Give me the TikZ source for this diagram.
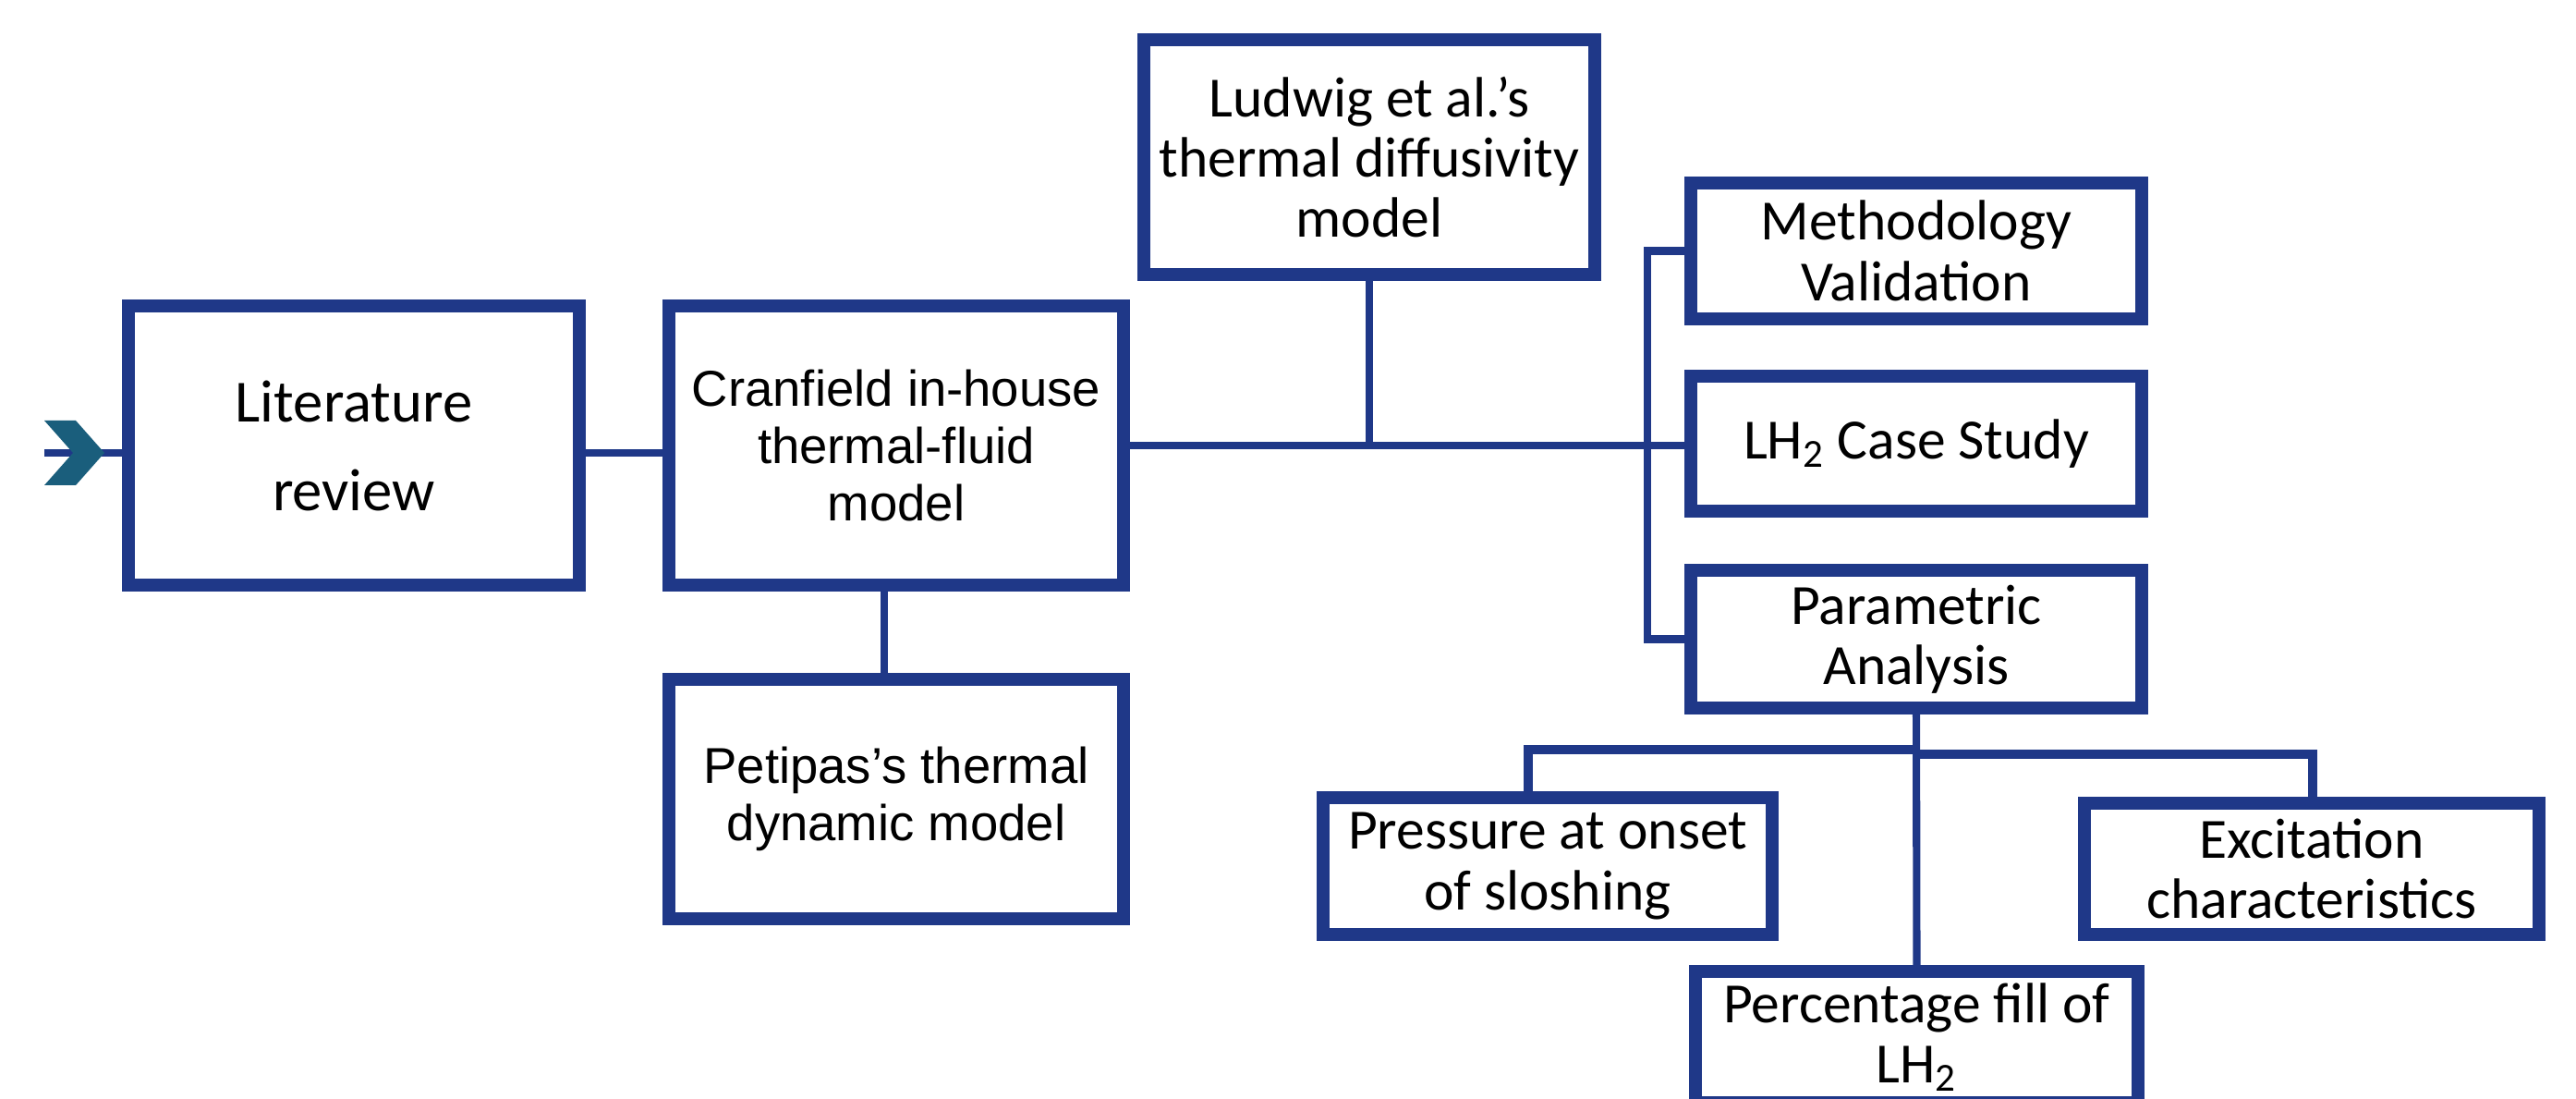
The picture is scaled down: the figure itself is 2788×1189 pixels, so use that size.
\documentclass[tikz,border=0pt]{standalone}
\usepackage{fontspec}
\setmainfont{Carlito}
\newfontfamily\arialf{Liberation Sans}
\definecolor{boxblue}{RGB}{31,56,136}
\definecolor{chevteal}{RGB}{26,94,124}
\begin{document}
\begin{tikzpicture}[x=0.01cm,y=-0.01cm,
  box/.style={draw=boxblue, line width=2.7pt, fill=white, align=center, inner sep=0pt,
    font=\fontsize{17.5}{18.6}\selectfont},
  widebox/.style={box, font=\arialf\fontsize{15.5}{17.6}\selectfont},
  link/.style={draw=boxblue, line width=2.3pt},
  barlink/.style={draw=boxblue, line width=2.8pt},
  chev/.style={fill=chevteal, draw=none}
]
\useasboundingbox (0,0) rectangle (2788,1189);
\clip (0,0) rectangle (2788,1189);
\fill[white] (0,0) rectangle (2788,1189);

% nodes
\node[box, minimum width=4.83cm, minimum height=2.97cm,
  font=\fontsize{18.4}{27.3}\selectfont] (lit) at (383,482) {Literature\\review};
\node[widebox, minimum width=4.87cm, minimum height=2.97cm] (cran) at (970,482)
  {Cranfield in-house\\thermal-fluid\\model};
\node[widebox, minimum width=4.87cm, minimum height=2.54cm] (pet) at (970,864.5)
  {Petipas’s thermal\\dynamic model};
\node[box, minimum width=4.83cm, minimum height=2.49cm] (lud) at (1482,170)
  {Ludwig et al.’s\\thermal diffusivity\\model};
\node[box, minimum width=4.83cm, minimum height=1.42cm] (meth) at (2074,271.5)
  {Methodology\\Validation};
\node[box, minimum width=4.83cm, minimum height=1.41cm] (lh) at (2074,480)
  {LH\textsubscript{2} Case Study};
\node[box, minimum width=4.83cm, minimum height=1.44cm] (par) at (2074,691.5)
  {Parametric\\Analysis};
\node[box, minimum width=4.81cm, minimum height=1.43cm] (pres) at (1675,937)
  {Pressure at onset\\of sloshing};
\node[box, minimum width=4.87cm, minimum height=1.37cm] (exc) at (2502,940)
  {Excitation\\characteristics};
\node[box, minimum width=4.74cm, minimum height=1.37cm] (perc) at (2074.5,1122)
  {Percentage fill of\\LH\textsubscript{2}};

% helper coordinates
\coordinate (start) at (48,490);
\coordinate (brk) at (1783,480);
\coordinate (presx) at (1654,811);
\coordinate (excx) at (2503,816);

% connectors
\draw[link] (start) -- (start -| lit.west);
\draw[link] ([yshift=-0.08cm]lit.east) -- ([yshift=-0.08cm]cran.west);
\draw[link] (cran.east) -- (cran.east -| lh.west);
\draw[link] (lud.south) -- (lud.south |- cran.east);
\draw[link] ([xshift=-0.13cm]cran.south) -- ([xshift=-0.13cm]pet.north);
\draw[link] (meth.west) -- (meth.west -| brk) -- (par.west -| brk) -- (par.west);
\draw[link] (par.south) -- (perc.north);
\draw[barlink] (presx |- pres.north) -- (presx) -- (presx -| par.south);
\draw[barlink] (excx -| par.south) -- (excx) -- (excx |- exc.north);

% chevron
\fill[chev] (48,455) -- (82,455) -- (113,490) -- (82,525) -- (48,525) -- (79,490) -- cycle;

% redraw box borders on top of connectors
\foreach \n in {lit,cran,pet,lud,meth,lh,par,pres,exc,perc}{
  \draw[boxblue, line width=2.7pt] (\n.north west) rectangle (\n.south east);
}
\end{tikzpicture}
\end{document}
